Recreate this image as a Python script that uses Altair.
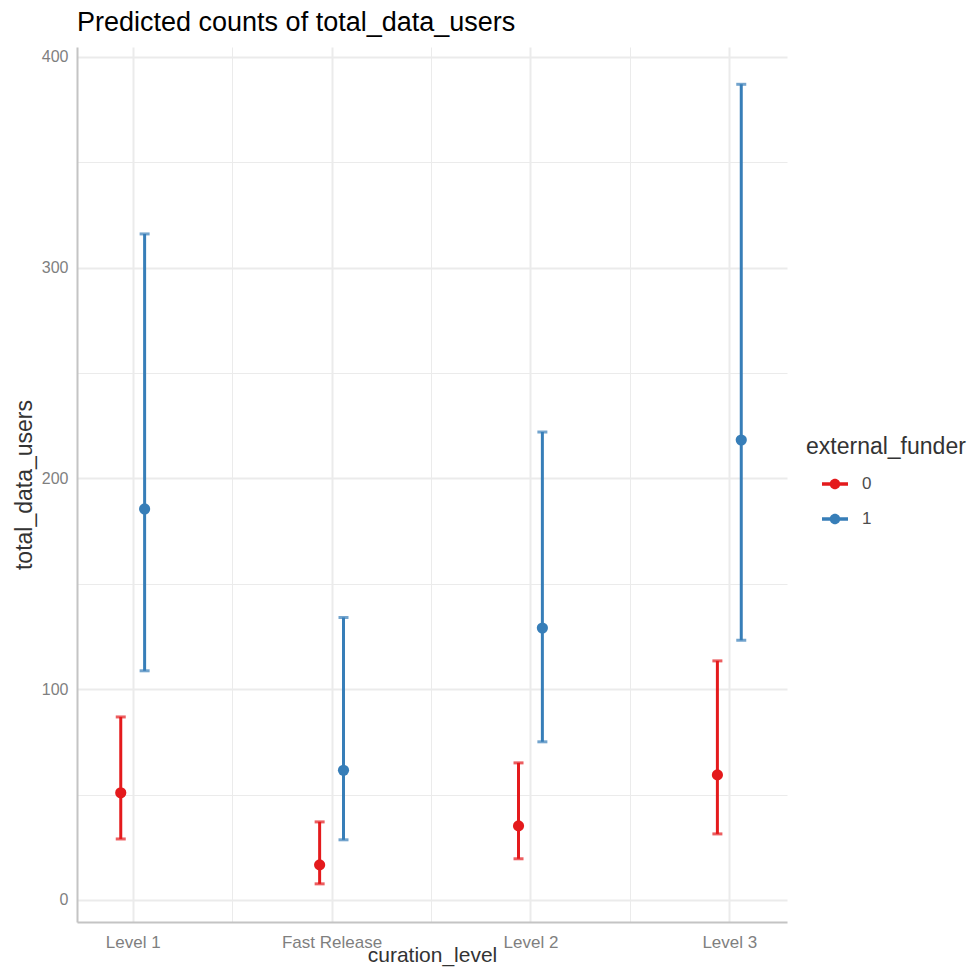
import altair as alt
import pandas as pd

categories = ["Level 1", "Fast Release", "Level 2", "Level 3"]
funder = ["0", "1"]
# predicted counts and 95% CI, per category, per funder
pred_0 = [50.8, 16.6, 35.1, 59.3]
low_0 = [28.9, 7.6, 19.5, 31.3]
high_0 = [86.8, 37.0, 65.0, 113.4]
pred_1 = [185.5, 61.5, 129.0, 218.2]
low_1 = [108.7, 28.5, 75.0, 123.2]
high_1 = [316.0, 134.0, 222.0, 387.0]

rows = []
for i, c in enumerate(categories):
    rows.append({"curation_level": c, "idx": i + 1, "external_funder": "0",
                 "pred": pred_0[i], "low": low_0[i], "high": high_0[i]})
    rows.append({"curation_level": c, "idx": i + 1, "external_funder": "1",
                 "pred": pred_1[i], "low": low_1[i], "high": high_1[i]})
df = pd.DataFrame(rows)

dodge = 0.06
label_expr = ("datum.value == 1 ? 'Level 1' : datum.value == 2 ? 'Fast Release' : "
              "datum.value == 3 ? 'Level 2' : datum.value == 4 ? 'Level 3' : ''")

x_scale = alt.Scale(domain=[0.72, 4.29], nice=False, zero=False)
y_scale = alt.Scale(domain=[-10.5, 404.7], nice=False, zero=False)
color_scale = alt.Scale(domain=funder, range=["#E41A1C", "#377EB8"])

# symbol: a horizontal line with a dot, drawn in the right part of a wider box
symbol_path = ("M -0.238 -0.078 L 1 -0.078 L 1 0.078 L -0.238 0.078 Z "
               "M 0.63 0 A 0.25 0.25 0 1 1 0.13 0 A 0.25 0.25 0 1 1 0.63 0 Z")

color = alt.Color(
    "external_funder:N",
    scale=color_scale,
    legend=alt.Legend(
        title="external_funder",
        orient="none", legendX=729, legendY=389,
        symbolType=symbol_path,
        symbolSize=1764, symbolStrokeWidth=0, symbolOpacity=1,
        titleFontSize=23, titleFont="Liberation Sans", titleFontWeight="normal",
        titleColor="#333333", titlePadding=4,
        labelFontSize=17, labelFont="Liberation Sans", labelColor="#4d4d4d",
        labelOffset=14, rowPadding=6,
    ),
)

x_axis = alt.Axis(
    title="curation_level",
    values=[1, 1.5, 2, 2.5, 3, 3.5, 4],
    labelExpr=label_expr,
    ticks=False,
    grid=True,
    gridColor="#ebebeb",
    gridWidth={"condition": {"test": "datum.value % 1 == 0", "value": 2}, "value": 1},
    domainColor="#c4c4c4", domainWidth=2,
    labelFontSize=17, labelColor="#7f7f7f", labelFont="Liberation Sans", labelPadding=12,
    titleFontSize=21, titleColor="#333333", titleFont="Liberation Sans",
    titleFontWeight="normal", titlePadding=-6,
)
y_axis = alt.Axis(
    title="total_data_users",
    values=[0, 50, 100, 150, 200, 250, 300, 350, 400],
    labelExpr="datum.value % 100 == 0 ? datum.label : ''",
    ticks=False,
    grid=True,
    gridColor="#ebebeb",
    gridWidth={"condition": {"test": "datum.value % 100 == 0", "value": 2}, "value": 1},
    domainColor="#c4c4c4", domainWidth=2,
    labelFontSize=16, labelColor="#7f7f7f", labelFont="Liberation Sans", labelPadding=9,
    titleFontSize=23, titleColor="#333333", titleFont="Liberation Sans",
    titleFontWeight="normal", titlePadding=5,
)

base = alt.Chart(df).transform_calculate(
    xpos=f"datum.idx + (datum.external_funder == '0' ? -{dodge} : {dodge})"
)

rules = base.mark_rule(strokeWidth=3).encode(
    x=alt.X("xpos:Q", scale=x_scale, axis=x_axis),
    y=alt.Y("low:Q", scale=y_scale, axis=y_axis),
    y2="high:Q",
    color=color,
)
caps_hi = base.mark_tick(orient="horizontal", size=10, thickness=3).encode(
    x=alt.X("xpos:Q", scale=x_scale),
    y=alt.Y("high:Q", scale=y_scale),
    color=alt.Color("external_funder:N", legend=None, scale=color_scale),
)
caps_lo = base.mark_tick(orient="horizontal", size=10, thickness=3).encode(
    x=alt.X("xpos:Q", scale=x_scale),
    y=alt.Y("low:Q", scale=y_scale),
    color=alt.Color("external_funder:N", legend=None, scale=color_scale),
)
points = base.mark_circle(size=125, opacity=1).encode(
    x=alt.X("xpos:Q", scale=x_scale),
    y=alt.Y("pred:Q", scale=y_scale),
    color=alt.Color("external_funder:N", legend=None, scale=color_scale),
)

chart = alt.layer(rules, caps_hi, caps_lo, points).properties(
    width=710,
    height=875,
    background="white",
    title=alt.TitleParams(
        "Predicted counts of total_data_users",
        anchor="start", frame="group", fontSize=27, font="Liberation Sans",
        fontWeight="normal", color="#000000", offset=10,
    ),
    autosize=alt.AutoSizeParams(type="none"),
    padding={"left": 69, "top": 39, "right": 184, "bottom": 45},
).configure_view(stroke=None)

chart.save("out.html", embed_options={"renderer": "svg", "actions": False})
